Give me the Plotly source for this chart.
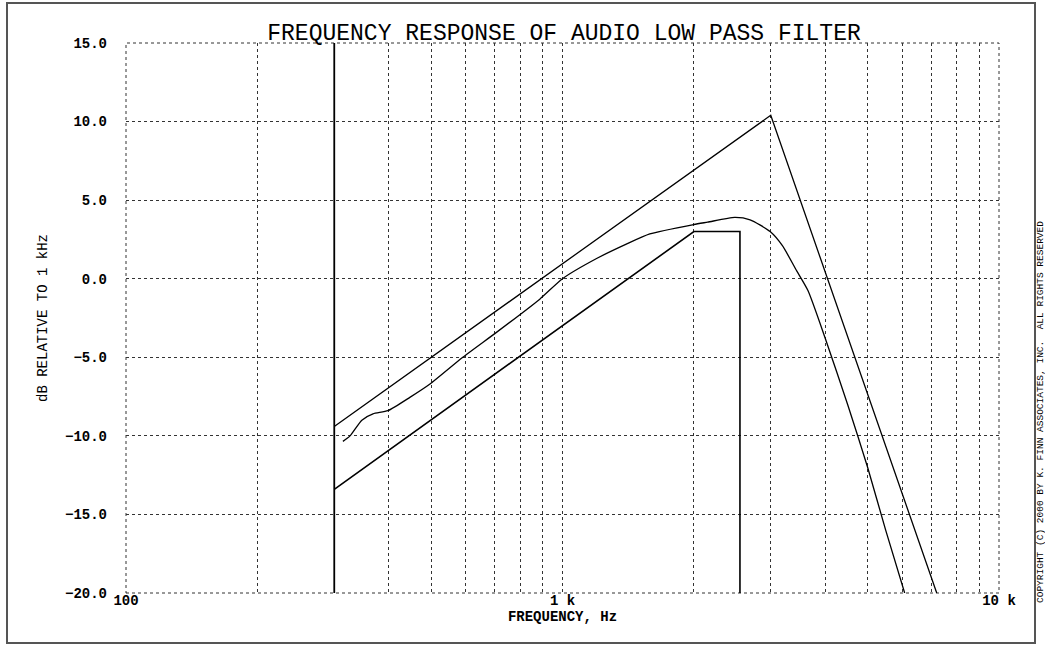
import plotly.graph_objects as go

# ---- data ----
upper_freq = [300, 3000, 7200]
upper_db = [-9.4, 10.4, -20.0]

middle_freq = [314, 326, 347, 368, 398, 447, 497, 591, 707, 887, 1000, 1200, 1400,
               1585, 2000, 2150, 2480, 2690, 2990, 3190, 3440, 3650, 4000, 4500,
               5000, 5500, 6080]
middle_db = [-10.35, -10.0, -9.0, -8.6, -8.4, -7.55, -6.7, -5.0, -3.4, -1.3, 0.0, 1.3, 2.2,
             2.85, 3.45, 3.6, 3.9, 3.75, 3.0, 2.1, 0.5, -0.75, -3.8, -8.0,
             -12.0, -16.0, -20.0]

lower_freq = [300, 2000, 2550, 2550]
lower_db = [-13.4, 3.0, 3.0, -20.0]

marker_freq = [300, 300]
marker_db = [-20.0, 15.0]

x_tickvals = [100, 200, 300, 400, 500, 600, 700, 800, 900,
              1000, 2000, 3000, 4000, 5000, 6000, 7000, 8000, 9000, 10000]
x_ticktext = ["100", "", "", "", "", "", "", "", "",
              "1 k", "", "", "", "", "", "", "", "", "10 k"]
y_tickvals = [-20, -15, -10, -5, 0, 5, 10, 15]

title_text = "FREQUENCY RESPONSE OF AUDIO LOW PASS FILTER"
x_title = "FREQUENCY, Hz"
y_title = "dB RELATIVE TO 1 kHz"
copyright_text = "COPYRIGHT (C) 2000 BY K. FINN ASSOCIATES, INC.  ALL RIGHTS RESERVED"

MONO = "Liberation Mono, DejaVu Sans Mono, monospace"

fig = go.Figure()
line_style = dict(color="black", width=1.3)
fig.add_trace(go.Scatter(x=upper_freq, y=upper_db, mode="lines", line=line_style,
                         showlegend=False, hoverinfo="skip"))
fig.add_trace(go.Scatter(x=middle_freq, y=middle_db, mode="lines",
                         line=dict(color="black", width=1.3, shape="spline", smoothing=0.6),
                         showlegend=False, hoverinfo="skip"))
fig.add_trace(go.Scatter(x=lower_freq, y=lower_db, mode="lines", line=dict(color="black", width=1.6),
                         showlegend=False, hoverinfo="skip"))
fig.add_trace(go.Scatter(x=marker_freq, y=marker_db, mode="lines", line=dict(color="black", width=1.8),
                         showlegend=False, hoverinfo="skip"))

L, T = 126, 43
PW, PH = 873, 550
W, H = 1045, 646


def px2paper_x(px):
    return (px - L) / PW


def px2paper_y(py):
    return (T + PH - py) / PH


fig.update_layout(
    width=W, height=H,
    margin=dict(l=L, r=W - L - PW, t=T, b=H - T - PH, autoexpand=False),
    paper_bgcolor="white", plot_bgcolor="white",
    font=dict(family=MONO, color="black"),
    title=dict(text=title_text, x=px2paper_x(564), xref="paper", xanchor="center",
               y=1 - 32 / H, yref="container", yanchor="middle",
               font=dict(family=MONO, size=23, color="black")),
)

fig.update_xaxes(
    type="log", range=[2, 4],
    tickmode="array", tickvals=x_tickvals, ticktext=x_ticktext,
    showgrid=True, gridcolor="#333333", griddash="dot", gridwidth=1,
    showline=False, zeroline=False, ticks="",
    tickfont=dict(family=MONO, size=14, color="black", weight="bold"),
    ticklabelstandoff=-3,
    title=dict(text=x_title, standoff=0,
               font=dict(family=MONO, size=14, color="black", weight="bold")),
)
fig.update_yaxes(
    range=[-20, 15], tickmode="array", tickvals=y_tickvals, tickformat=".1f",
    showgrid=True, gridcolor="#333333", griddash="dot", gridwidth=1,
    showline=False, zeroline=False, ticks="",
    tickfont=dict(family=MONO, size=14, color="black", weight="bold"),
    ticklabelstandoff=18,
    title=dict(text=y_title, standoff=14,
               font=dict(family=MONO, size=14, color="black")),
)

# dotted border of the plot area (edge grid lines)
fig.add_shape(type="rect", xref="paper", yref="paper", x0=0, x1=1, y0=0, y1=1,
              line=dict(color="#333333", width=1, dash="dot"),
              fillcolor="rgba(0,0,0,0)", layer="below")

# outer frame
fig.add_shape(type="rect", xref="paper", yref="paper",
              x0=px2paper_x(7), x1=px2paper_x(1035), y0=px2paper_y(643), y1=px2paper_y(3),
              line=dict(color="#555555", width=2), fillcolor="rgba(0,0,0,0)", layer="below")

# copyright text on the right edge
fig.add_annotation(text=copyright_text, xref="paper", yref="paper",
                   x=px2paper_x(1040), y=px2paper_y(412), textangle=-90,
                   showarrow=False, xanchor="center", yanchor="middle",
                   font=dict(family=MONO, size=9.5, color="black"))

fig.write_html("out.html", config={"displayModeBar": False},
               post_script="document.body.style.margin='0';document.body.style.overflow='hidden';")
